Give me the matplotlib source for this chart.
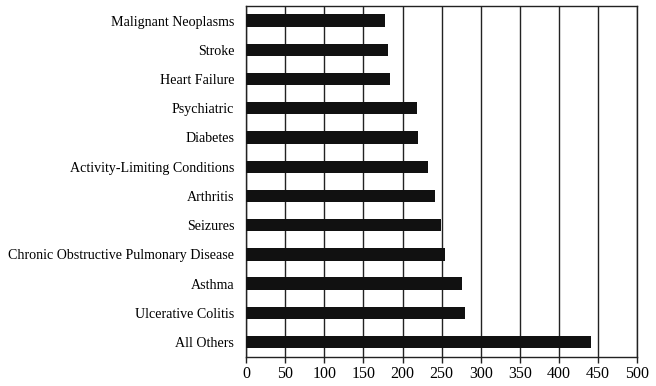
import matplotlib
matplotlib.use("Agg")
import matplotlib.pyplot as plt
import numpy as np

# categories from top to bottom
categorias = ["Malignant Neoplasms", "Stroke", "Heart Failure", "Psychiatric",
              "Diabetes", "Activity-Limiting Conditions", "Arthritis", "Seizures",
              "Chronic Obstructive Pulmonary Disease", "Asthma",
              "Ulcerative Colitis", "All Others"]
valores = [177, 182, 184, 218, 220, 233, 242, 249, 254, 276, 280, 441]
ticks_x = [0, 50, 100, 150, 200, 250, 300, 350, 400, 450, 500]

plt.rcParams['font.family'] = ['Liberation Serif', 'DejaVu Serif']

fig = plt.figure(figsize=(6.56, 3.86), dpi=100)
ax = fig.add_axes([0.375, 0.076, 0.5965, 0.9085])

y = np.arange(len(categorias))
ax.barh(y, valores, height=0.42, color="#111111", zorder=3)

ax.set_xlim(0, 500)
ax.set_ylim(len(categorias) - 0.5, -0.5)
ax.set_xticks(ticks_x)
ax.set_xticklabels([str(t) for t in ticks_x], fontsize=11.5)
ax.set_yticks(y)
ax.set_yticklabels(categorias, fontsize=10.1)

# vertical gridlines
ax.grid(axis="x", color="#222222", linewidth=1.0, zorder=1)
ax.tick_params(axis="y", length=0, pad=8.5)
ax.tick_params(axis="x", length=4, width=1.0, color="#222222", pad=3)
for s in ax.spines.values():
    s.set_color("#222222")
    s.set_linewidth(1.0)

fig.savefig("out.png", dpi=100)
